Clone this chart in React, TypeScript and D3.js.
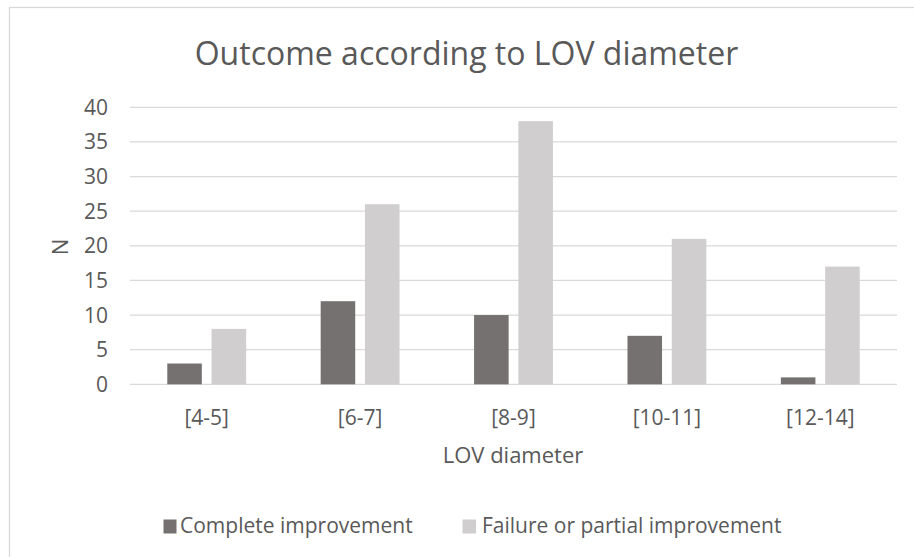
import React from "react";
import * as d3 from "d3";

const categories = ["[4-5]", "[6-7]", "[8-9]", "[10-11]", "[12-14]"];
const seriesNames = ["Complete improvement", "Failure or partial improvement"];
const complete = [3, 12, 10, 7, 1];
const failure = [8, 26, 38, 21, 17];
const yTicks = [0, 5, 10, 15, 20, 25, 30, 35, 40];
const colors = ["#767171", "#D0CECE"];

const W = 914;
const H = 557;
const FONT = "'Open Sans', sans-serif";
const TEXT = "#595959";

export default function App() {
  const x0 = d3.scaleBand<string>().domain(categories).range([130, 897]).paddingInner(0).paddingOuter(0);
  const groupW = x0.step() * 0.514;
  const x1 = d3
    .scaleBand<string>()
    .domain(seriesNames)
    .range([-groupW / 2, groupW / 2])
    .paddingInner(0.22)
    .paddingOuter(0);
  const y = d3.scaleLinear().domain([0, 40]).range([384.3, 107.3]);
  const series = [complete, failure];

  return (
    <svg
      width={W}
      height={H}
      style={{ position: "absolute", left: 0, top: 0, background: "#fff" }}
      fontFamily={FONT}
    >
      <rect x={0} y={0} width={W} height={H} fill="#fff" />
      <rect x={9.5} y={7.5} width={1200} height={1200} fill="none" stroke="#D9D9D9" strokeWidth={1.3} />
      <text x={466.5} y={65} textAnchor="middle" fontSize={32} fill={TEXT}>
        Outcome according to LOV diameter
      </text>
      {yTicks.map((t) => (
        <g key={t}>
          <line x1={130} x2={897} y1={y(t)} y2={y(t)} stroke="#D9D9D9" strokeWidth={1.3} />
          <text x={108} y={y(t)} dy="0.36em" textAnchor="end" fontSize={21} fill={TEXT}>
            {t}
          </text>
        </g>
      ))}
      {categories.map((c, i) => (
        <g key={c}>
          {series.map((vals, s) => (
            <rect
              key={s}
              x={(x0(c) as number) + x0.bandwidth() / 2 + (x1(seriesNames[s]) as number)}
              y={y(vals[i])}
              width={x1.bandwidth()}
              height={y(0) - y(vals[i])}
              fill={colors[s]}
            />
          ))}
          <text
            x={(x0(c) as number) + x0.bandwidth() / 2}
            y={424.5}
            textAnchor="middle"
            fontSize={21}
            fill={TEXT}
          >
            {c}
          </text>
        </g>
      ))}
      <text x={513} y={463} textAnchor="middle" fontSize={22} fill={TEXT}>
        LOV diameter
      </text>
      <text
        transform="translate(68,247) rotate(-90)"
        textAnchor="middle"
        fontSize={22}
        fill={TEXT}
      >
        N
      </text>
      <g>
        <rect x={163.5} y={519.5} width={13} height={14} fill={colors[0]} />
        <text x={180} y={533} fontSize={21} fill={TEXT}>
          {seriesNames[0]}
        </text>
        <rect x={462.5} y={519.5} width={13.5} height={14} fill={colors[1]} />
        <text x={482} y={533} fontSize={21} fill={TEXT}>
          {seriesNames[1]}
        </text>
      </g>
    </svg>
  );
}
